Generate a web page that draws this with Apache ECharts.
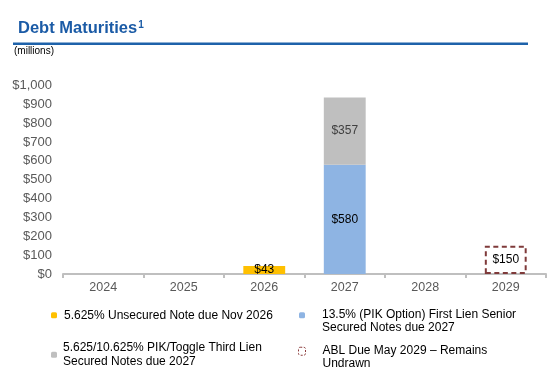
<!DOCTYPE html>
<html>
<head>
<meta charset="utf-8">
<script src="https://cdn.jsdelivr.net/npm/echarts@6/dist/echarts.min.js"></script>
<style>html,body{margin:0;padding:0;background:#fff;}#c{width:556px;height:374px;}</style>
</head>
<body>
<div id="c"></div>
<script>
const years = ['2024', '2025', '2026', '2027', '2028', '2029'];
const unsecured = [null, null, 43, null, null, null];
const firstLien = [null, null, null, 580, null, null];
const thirdLien = [null, null, null, 357, null, null];
const abl = [null, null, null, null, null, 150];
const seriesNames = [
  '5.625% Unsecured Note due Nov 2026',
  '13.5% (PIK Option) First Lien Senior Secured Notes due 2027',
  '5.625/10.625% PIK/Toggle Third Lien Secured Notes due 2027',
  'ABL Due May 2029 – Remains Undrawn'
];
const legendLines = [
  ['5.625% Unsecured Note due Nov 2026'],
  ['13.5% (PIK Option) First Lien Senior', 'Secured Notes due 2027'],
  ['5.625/10.625% PIK/Toggle Third Lien', 'Secured Notes due 2027'],
  ['ABL Due May 2029 – Remains', 'Undrawn']
];
const yMin = 0, yMax = 1000, yStep = 100;

const FONT = '"Liberation Sans", Arial, sans-serif';
const chart = echarts.init(document.getElementById('c'), null, {renderer: 'canvas'});
// plain legend text, centred on the icon
const fmtCentered = name => legendLines[seriesNames.indexOf(name)].map(s => '{t|' + s + '}').join('\n');
// legend text whose first line sits beside the icon (leading spacer line)
const fmtTopAligned = name => '{p| }\n' + fmtCentered(name);
const legendRich = {
  t: {fontSize: 12, lineHeight: 13.5, color: '#000', fontFamily: FONT},
  p: {fontSize: 2, lineHeight: 11.5}
};
const valLabel = (color) => ({
  show: true, position: 'inside', color: color, fontSize: 12, fontFamily: FONT,
  formatter: p => '$' + p.value
});

chart.setOption({
  animation: false,
  backgroundColor: '#fff',
  textStyle: {fontFamily: FONT},
  title: [
    {
      text: 'Debt Maturities{s|1}', left: 18, top: 20, padding: 0,
      textStyle: {
        fontSize: 16.5, fontWeight: 'bold', color: '#1B5BA6', fontFamily: FONT,
        rich: {s: {fontSize: 10, fontWeight: 'bold', color: '#1B5BA6', fontFamily: FONT, verticalAlign: 'top', padding: [0, 0, 6, 1]}}
      }
    },
    {
      text: '(millions)', left: 14, top: 46.5, padding: 0,
      textStyle: {fontSize: 10, fontWeight: 'normal', color: '#000', fontFamily: FONT}
    }
  ],
  graphic: [{
    type: 'line', shape: {x1: 13, y1: 43.7, x2: 528, y2: 43.7},
    style: {stroke: '#1E62AA', lineWidth: 2.5}
  }],
  grid: {left: 63, right: 10, top: 85.5, bottom: 100},
  xAxis: {
    type: 'category', data: years,
    axisLine: {lineStyle: {color: '#BFBFBF', width: 2}},
    axisTick: {show: true, interval: 0, length: 4, lineStyle: {color: '#BFBFBF', width: 2}},
    axisLabel: {color: '#595959', fontSize: 12.5, margin: 7, fontFamily: FONT}
  },
  yAxis: {
    type: 'value', min: yMin, max: yMax, interval: yStep,
    splitLine: {show: false}, axisLine: {show: false}, axisTick: {show: false},
    axisLabel: {color: '#595959', fontSize: 13, margin: 11, fontFamily: FONT,
      formatter: v => '$' + v.toLocaleString('en-US')}
  },
  legend: [
    {data: [seriesNames[0]], left: 51, top: 309.25, padding: 0, itemWidth: 6, itemHeight: 6, formatter: fmtCentered,
      textStyle: {fontSize: 12, color: '#000', padding: [0, 0, 0, 2], fontFamily: FONT, rich: legendRich}},
    {data: [seriesNames[1]], left: 299, top: 300.75, padding: 0, itemWidth: 6, itemHeight: 6, formatter: fmtTopAligned,
      textStyle: {fontSize: 12, color: '#000', padding: [0, 0, 0, 12], fontFamily: FONT, rich: legendRich}},
    {data: [seriesNames[2]], left: 51, top: 342, padding: 0, itemWidth: 6, itemHeight: 6, formatter: fmtCentered,
      textStyle: {fontSize: 12, color: '#000', padding: [0, 0, 0, 1], fontFamily: FONT, rich: legendRich}},
    {data: [seriesNames[3]], left: 298, top: 336.75, padding: 0, itemWidth: 7, itemHeight: 8, formatter: fmtTopAligned,
      itemStyle: {color: '#fff', borderColor: '#8B3A3A', borderWidth: 1, borderType: [2, 1.5]},
      textStyle: {fontSize: 12, color: '#000', padding: [0, 0, 0, 12], fontFamily: FONT, rich: legendRich}}
  ],
  series: [
    {name: seriesNames[0], type: 'bar', stack: 'total', data: unsecured, barWidth: '52%',
      itemStyle: {color: '#FFC000'}, label: valLabel('#000')},
    {name: seriesNames[1], type: 'bar', stack: 'total', data: firstLien, barWidth: '52%',
      itemStyle: {color: '#8EB4E3'}, label: valLabel('#000')},
    {name: seriesNames[2], type: 'bar', stack: 'total', data: thirdLien, barWidth: '52%',
      itemStyle: {color: '#BFBFBF'}, label: valLabel('#404040')},
    {name: seriesNames[3], type: 'bar', stack: 'total', data: abl, barWidth: '52%',
      itemStyle: {color: 'rgba(255,255,255,0)', borderColor: '#7F3A3A', borderWidth: 2, borderType: [5, 3.5]},
      label: valLabel('#000')}
  ]
});
</script>
</body>
</html>
